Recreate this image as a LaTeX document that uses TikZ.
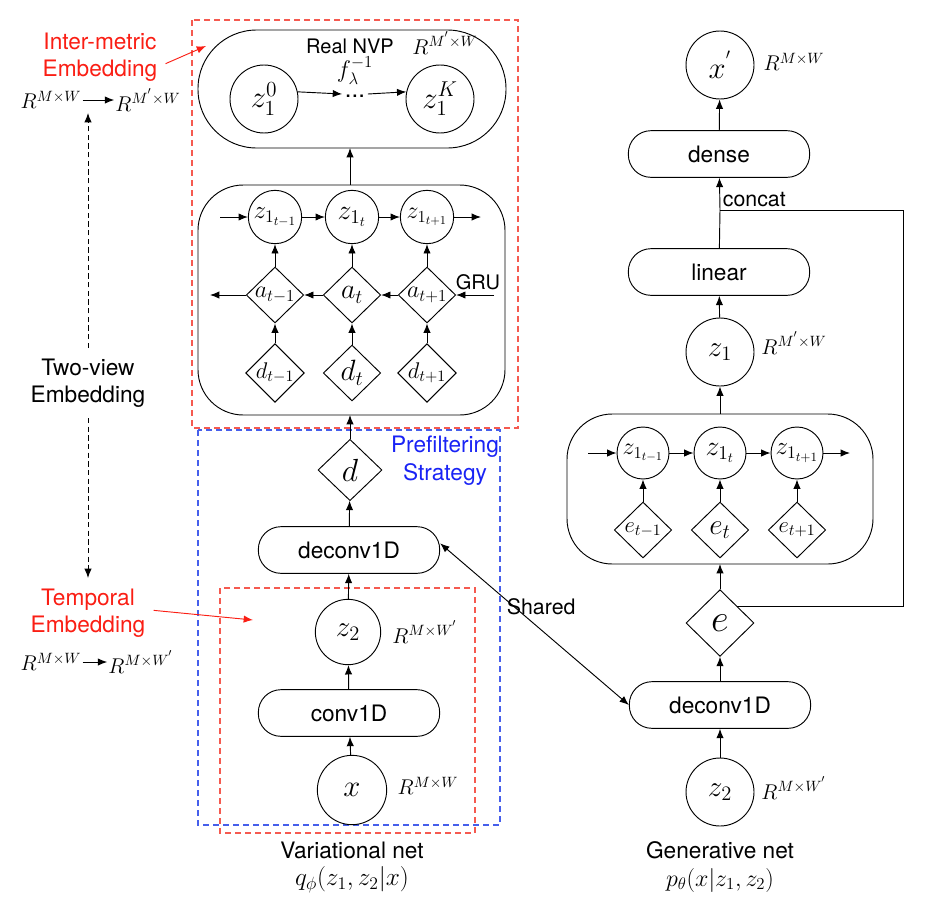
\RequirePackage{fix-cm}
\documentclass[tikz,border=0pt]{standalone}
\usepackage{amsmath, amssymb}
\usepackage[no-math]{fontspec}
\setmainfont{TeX Gyre Heros}
\usetikzlibrary{arrows.meta, shapes.geometric}

\definecolor{embred}{RGB}{250,30,20}
\definecolor{boxred}{RGB}{245,90,80}
\definecolor{stratblue}{RGB}{25,35,245}
\definecolor{boxblue}{RGB}{70,95,235}

\newcommand{\setfs}[1]{\fontsize{#1}{#1}\selectfont}

\tikzset{
  arr/.style={-{Latex[length=7pt,width=5.5pt]}, line width=0.7pt},
  bigcirc/.style={circle, draw, line width=0.7pt, minimum size=51pt, inner sep=0pt},
  smallcirc/.style={circle, draw, line width=0.7pt, minimum size=40pt, inner sep=0pt},
  smalldiam/.style={diamond, draw, line width=0.7pt, minimum width=43pt, minimum height=42pt, inner sep=0pt},
  pill/.style={rectangle, draw, line width=0.7pt, rounded corners=17pt, minimum width=136pt, minimum height=35pt, font=\setfs{17}},
  dimlabel/.style={inner sep=0.75pt, font=\setfs{16}},
  dashbox/.style={dashed, dash pattern=on 4.5pt off 3pt, line width=0.8pt},
}

\begin{document}
\begin{tikzpicture}[x=0.75pt,y=0.75pt,yscale=-1,xscale=1]
\useasboundingbox (0,0) rectangle (946,900);

%Shape: dashed frames
\draw [dashbox, boxred] (192,20) rectangle (518,428);
\draw [dashbox, boxblue] (198,430) rectangle (500,825);
\draw [dashbox, boxred] (220,588) rectangle (475,833);

%Shape: Real NVP block
\draw [line width=0.7pt, rounded corners=44pt] (198,30) rectangle (506,148);
\node [bigcirc, font=\setfs{23}] (z10) at (264,99) {$z_1^0$};
\node [bigcirc, font=\setfs{23}] (z1K) at (440,99) {$z_1^K$};
\node [inner sep=0pt, text height=5pt, text depth=0pt, font=\setfs{18}] (dots) at (355,94) {...};
\node [inner sep=0pt, font=\setfs{18}] (flam) at (355,71) {$f_\lambda^{-1}$};
\node [inner sep=0pt, font=\setfs{15}] (nvp) at (350,46) {Real NVP};
\node [dimlabel] (rnvp) at (445,43) {$R^{M^{'}\times W}$};
\draw [arr] (z10.12) -- ([xshift=-2pt]dots.west);
\draw [arr] ([xshift=2pt]dots.east) -- (z1K.168);

%Shape: GRU block (variational)
\draw [line width=0.7pt, rounded corners=34pt] (198,185) rectangle (505,415);
\coordinate (vgtop) at (350,185);
\coordinate (vgbot) at (350,415);
\node [smallcirc, font=\setfs{19}] (vz1) at (275,217) {$z_{1_{t-1}}$};
\node [smallcirc, font=\setfs{21}] (vz2) at (352,217) {$z_{1_t}$};
\node [smallcirc, font=\setfs{18}] (vz3) at (427,217) {$z_{1_{t+1}}$};
\node [smalldiam, font=\setfs{18}] (a1) at (275,295) {$a_{t-1}$};
\node [smalldiam, font=\setfs{21}] (a2) at (352,295) {$a_t$};
\node [smalldiam, font=\setfs{18}] (a3) at (427,295) {$a_{t+1}$};
\node [smalldiam, font=\setfs{17}] (d1) at (275,373) {$d_{t-1}$};
\node [smalldiam, font=\setfs{22}] (d2) at (352,373) {$d_t$};
\node [smalldiam, font=\setfs{17}] (d3) at (427,373) {$d_{t+1}$};
\node [inner sep=0.75pt, font=\setfs{15}] (gru) at (478,282) {GRU};
\coordinate (vzin) at (220,217);
\coordinate (vzout) at (481,217);
\coordinate (ain) at (494,295);
\coordinate (aout) at (210,295);
\draw [arr] (vzin) -- (vz1);
\draw [arr] (vz1) -- (vz2);
\draw [arr] (vz2) -- (vz3);
\draw [arr] (vz3) -- (vzout);
\draw [arr] (ain) -- (a3);
\draw [arr] (a3) -- (a2);
\draw [arr] (a2) -- (a1);
\draw [arr] (a1) -- (aout);
\foreach \i in {1,2,3}{
  \draw [arr] (d\i) -- (a\i);
  \draw [arr] (a\i) -- (vz\i);
}
\draw [arr] (vgtop) -- (350,148);

%Variational net, lower part
\node [diamond, draw, line width=0.7pt, minimum width=48pt, minimum height=46pt, inner sep=0pt, font=\setfs{24}] (d) at (350,470) {$d$};
\node [pill] (vdeconv) at (349,550) {deconv1D};
\node [bigcirc, minimum size=49pt, font=\setfs{22}] (vz2b) at (348,632) {$z_2$};
\node [pill] (conv) at (349,713) {conv1D};
\node [bigcirc, minimum size=52pt, font=\setfs{23}] (x) at (352,790) {$x$};
\node [dimlabel] (rvz2) at (425,632) {$R^{M\times W^{'}}$};
\node [dimlabel] (rx) at (428,786) {$R^{M\times W}$};
\draw [arr] (d) -- (vgbot);
\draw [arr] (vdeconv) -- (d);
\draw [arr] (vz2b) -- (vdeconv);
\draw [arr] (conv) -- (vz2b);
\draw [arr] (x) -- (conv);
\node [align=center, text=stratblue, inner sep=0.75pt, font=\fontsize{17}{21}\selectfont] (strat) at (445,461) {Prefiltering\\Strategy};
\node [inner sep=0pt, font=\setfs{17}] (vnet) at (352,850) {Variational net};
\node [inner sep=0pt, font=\setfs{19}] (qphi) at (352,880) {$q_{\phi}(z_1, z_2|x)$};

%Left annotations
\node [align=center, text=embred, inner sep=6pt, font=\fontsize{17}{20}\selectfont] (intermetric) at (100,57) {Inter-metric\\Embedding};
\coordinate (imtip) at (206,46);
\draw [embred, -{Latex[length=7pt,width=5.5pt]}, line width=0.7pt] ([yshift=5pt]intermetric.east) -- (imtip);
\node [dimlabel] (ra1) at (51,100) {$R^{M\times W}$};
\node [dimlabel] (ra2) at (148,100) {$R^{M^{'}\times W}$};
\draw [arr] (ra1) -- (ra2);
\node [align=center, inner sep=8pt, font=\fontsize{17}{20}\selectfont] (twoview) at (88,383) {Two-view\\Embedding};
\coordinate (tvtop) at (88,113);
\coordinate (tvbot) at (88,578);
\draw [arr, dashed, dash pattern=on 4pt off 2.5pt] (twoview) -- (tvtop);
\draw [arr, dashed, dash pattern=on 4pt off 2.5pt] (twoview) -- (tvbot);
\node [align=center, text=embred, inner sep=6pt, font=\fontsize{17}{20}\selectfont] (temporal) at (88,613) {Temporal\\Embedding};
\coordinate (tptip) at (253,620);
\draw [embred, -{Latex[length=7pt,width=5.5pt]}, line width=0.7pt] ([yshift=-2pt]temporal.east) -- (tptip);
\node [dimlabel] (rb1) at (51,662) {$R^{M\times W}$};
\node [dimlabel] (rb2) at (141,662) {$R^{M\times W^{'}}$};
\draw [arr] (rb1) -- (rb2);

%Generative net
\node [bigcirc, font=\setfs{23}] (xp) at (720,65) {$x^{'}$};
\node [dimlabel] (rxp) at (794,62) {$R^{M\times W}$};
\node [pill] (dense) at (719,154) {dense};
\coordinate (cat) at (720,210);
\node [anchor=south west, inner sep=2pt, font=\setfs{16}] (concat) at (cat) {concat};
\node [pill] (linear) at (719,272) {linear};
\node [bigcirc, font=\setfs{22}] (gz1) at (720,352) {$z_1$};
\node [dimlabel] (rgz1) at (794,343) {$R^{M^{'}\times W}$};
\draw [arr] (dense) -- (xp);
\draw [arr] (cat) -- (dense);
\draw [line width=0.7pt] (linear) -- (cat);
\draw [arr] (gz1) -- (linear);

%Shape: GRU block (generative)
\draw [line width=0.7pt, rounded corners=34pt] (567,414) rectangle (873,564);
\coordinate (ggtop) at (720,414);
\coordinate (ggbot) at (720,564);
\node [smallcirc, minimum size=39pt, font=\setfs{18}] (gz1a) at (643,453) {$z_{1_{t-1}}$};
\node [smallcirc, minimum size=39pt, font=\setfs{21}] (gz1b) at (720,453) {$z_{1_t}$};
\node [smallcirc, minimum size=39pt, font=\setfs{19}] (gz1c) at (797,453) {$z_{1_{t+1}}$};
\node [smalldiam, font=\setfs{17}] (e1) at (643,530) {$e_{t-1}$};
\node [smalldiam, font=\setfs{22}] (e2) at (720,530) {$e_t$};
\node [smalldiam, font=\setfs{17}] (e3) at (797,530) {$e_{t+1}$};
\coordinate (gzin) at (588,453);
\coordinate (gzout) at (850,453);
\draw [arr] (gzin) -- (gz1a);
\draw [arr] (gz1a) -- (gz1b);
\draw [arr] (gz1b) -- (gz1c);
\draw [arr] (gz1c) -- (gzout);
\foreach \i/\n in {1/a,2/b,3/c}{
  \draw [arr] (e\i) -- (gz1\n);
}
\draw [arr] (ggtop) -- (gz1);

\node [diamond, draw, line width=0.7pt, minimum width=51pt, minimum height=50pt, inner sep=0pt, font=\setfs{29}] (e) at (720,623) {$e$};
\node [pill] (gdeconv) at (720,705) {deconv1D};
\node [bigcirc, font=\setfs{22}] (gz2) at (720,792) {$z_2$};
\node [dimlabel] (rgz2) at (794,788) {$R^{M\times W^{'}}$};
\draw [arr] (e) -- (ggbot);
\draw [arr] (gdeconv) -- (e);
\draw [arr] (gz2) -- (gdeconv);
\coordinate (catr) at (903,210);
\draw [line width=0.7pt] (e.north east) -| (catr) -- (cat);
\node [inner sep=0pt, font=\setfs{17}] (gnet) at (720,850) {Generative net};
\node [inner sep=0pt, font=\setfs{18}] (ptheta) at (720,880) {$p_{\theta}(x|z_1, z_2)$};

%Shared weights
\draw [{Latex[length=7pt,width=5.5pt]}-{Latex[length=7pt,width=5.5pt]}, line width=0.7pt] ([yshift=-5pt]vdeconv.east) -- (gdeconv.west) node [midway, above=6pt, xshift=5pt, inner sep=0.75pt, font=\setfs{16}] (shared) {Shared};

\end{tikzpicture}
\end{document}
